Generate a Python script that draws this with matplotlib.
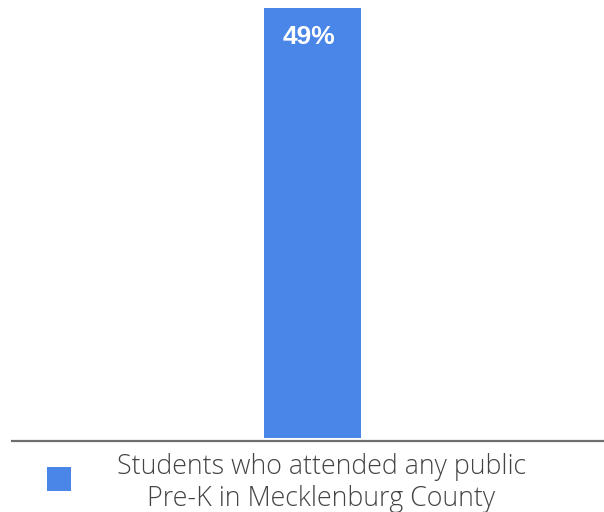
import matplotlib
matplotlib.use("Agg")
import matplotlib.pyplot as plt
from matplotlib.patches import Rectangle

categories = ["Students who attended any public\nPre-K in Mecklenburg County"]
values = [49]
labels = ["49%"]
color = "#4a86e8"

fig = plt.figure(figsize=(6.04, 5.12), dpi=100)
ax = fig.add_axes([12/604, 1 - 441/512, 592/604, (441 - 8)/512])

bar_w = 0.164
x0 = 0.0
ax.bar([x0], values, width=bar_w, color=color, bottom=0, zorder=2)
ax.set_xlim(-0.5076, 0.4924)
ax.set_ylim(-0.3, 49)

for xv, v, lab in zip([x0], values, labels):
    ax.text(xv - 0.006, v - 1.9, lab, ha="center", va="top", color="white",
            fontsize=19, fontweight="bold", family="Liberation Sans", zorder=3)

for s in ["top", "right", "left"]:
    ax.spines[s].set_visible(False)
ax.spines["bottom"].set_color("#6e6e6e")
ax.spines["bottom"].set_linewidth(1.6)
ax.set_xticks([])
ax.set_yticks([])

# legend (manual)
fig.patches.append(Rectangle((47/604, 1 - 491/512), 24/604, 24/512,
                             transform=fig.transFigure, facecolor=color,
                             edgecolor="none"))
fig.text(321.5/604, 1 - 483/512, categories[0], ha="center", va="center",
         multialignment="center", family="Open Sans", fontweight="light",
         fontsize=19.3, color="#444444", linespacing=1.18)

fig.savefig("out.png", dpi=100)
